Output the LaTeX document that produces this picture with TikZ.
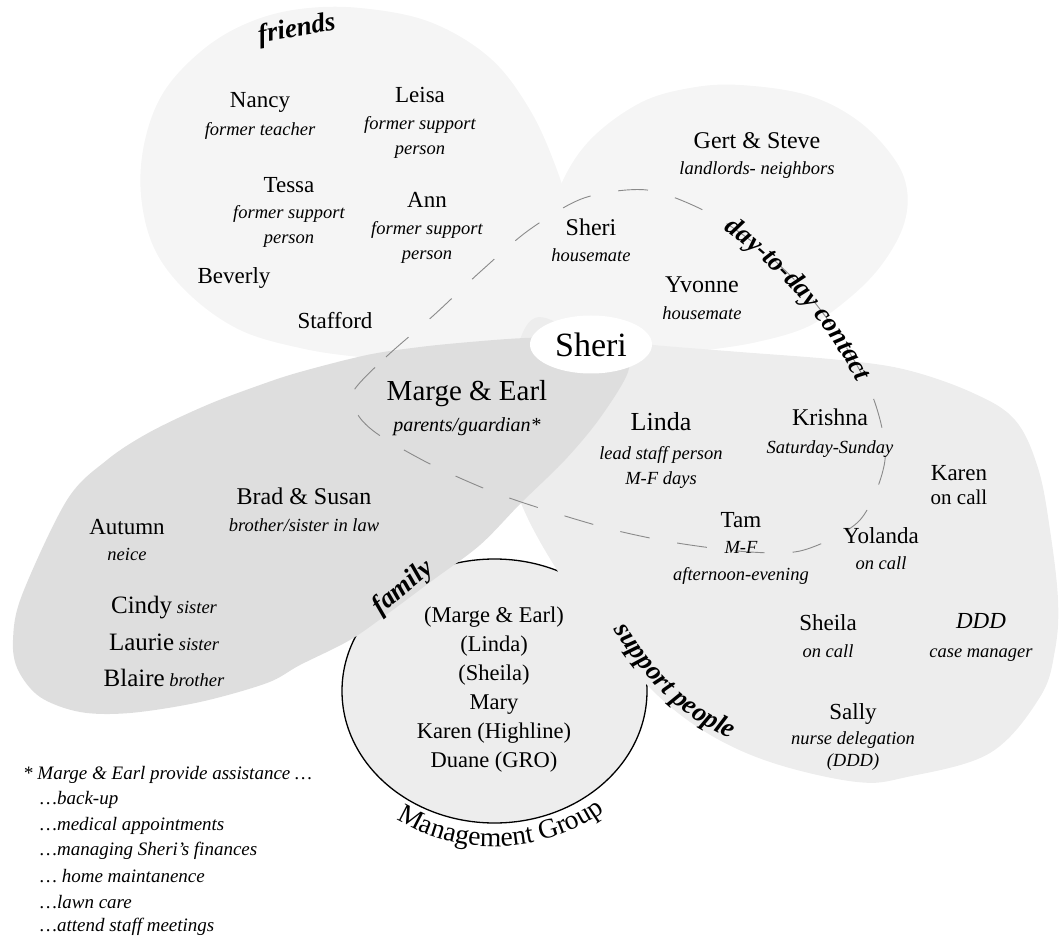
\documentclass[tikz,border=0pt]{standalone}
\usepackage{fontspec}
\setmainfont{Liberation Serif}
\usetikzlibrary{shapes.geometric,decorations.text}
\definecolor{friendsc}{HTML}{F5F5F5}
\definecolor{dayc}{HTML}{F5F5F5}
\definecolor{supc}{HTML}{EDEDED}
\definecolor{famc}{HTML}{DEDEDE}
\definecolor{mgmtc}{HTML}{EDEDED}
\definecolor{dashc}{HTML}{8A8A8A}
\newcommand\pnamefont{\fontsize{23}{25}\selectfont\upshape}
\newcommand\psubfont{\fontsize{18.5}{25}\selectfont\itshape}
\newcommand\plabelfont{\fontsize{27}{27}\selectfont\bfseries\itshape}
\newcommand\smalllabelfont{\fontsize{2.7}{2.7}\selectfont\bfseries\itshape}
\tikzset{
  person/.style={align=center, inner sep=0pt, font=\psubfont},
  grouplabel/.style={inner sep=0pt, font=\plabelfont},
  mgmtbox/.style={ellipse, draw=black, line width=1.3pt, fill=mgmtc, minimum width=305pt, minimum height=264pt, inner sep=0pt},
  sheribox/.style={ellipse, fill=white, minimum width=122pt, minimum height=58pt, inner sep=0pt, font=\fontsize{34}{34}\selectfont},
  daydash/.style={draw=dashc, line width=0.9pt, dash pattern=on 30pt off 28pt},
  footline/.style={anchor=west, inner sep=0pt, font=\fontsize{19}{22}\selectfont\itshape}
}
\begin{document}
\begin{tikzpicture}[x=1pt,y=1pt]
\useasboundingbox (0,0) rectangle (1061,-941);

% friends petal
\fill[friendsc] plot[smooth cycle, tension=0.6] coordinates {(300,-9) (360,-8) (430,-22) (490,-58) (530,-110) (557,-170) (575,-230) (590,-290) (585,-335) (520,-352) (440,-362) (360,-357) (300,-348) (240,-330) (190,-295) (155,-250) (141,-195) (145,-140) (165,-90) (205,-48) (250,-22)};

% day-to-day petal
\fill[dayc] plot[smooth cycle, tension=0.6] coordinates {(548,-240) (560,-187) (590,-140) (640,-103) (690,-88) (740,-85) (807,-95) (857,-120) (893,-157) (907,-190) (903,-227) (880,-267) (847,-300) (807,-327) (757,-342) (707,-350) (680,-352) (630,-348) (580,-320)};

% management group circle
\node[mgmtbox] (mgmt) at (494.5,-691) {};

% support people petal
\fill[supc] plot[smooth cycle, tension=0.6] coordinates {(535,-318) (590,-338) (653,-345) (740,-352) (840,-360) (907,-370) (973,-393) (1015,-420) (1038,-468) (1050,-530) (1058,-600) (1055,-650) (1040,-697) (990,-753) (907,-777) (857,-782) (773,-763) (707,-733) (652,-690) (600,-628) (557,-570) (521,-503) (505,-440) (512,-370)};

% family petal
\fill[famc] plot[smooth cycle, tension=0.55] coordinates {(470,-342) (525,-338) (585,-337) (622,-350) (628,-372) (600,-418) (565,-460) (521,-503) (480,-545) (433,-580) (390,-612) (350,-640) (300,-665) (267,-683) (200,-702) (130,-713) (80,-712) (40,-697) (18,-670) (13,-640) (22,-595) (67,-500) (107,-460) (150,-432) (207,-405) (260,-385) (300,-372) (367,-355) (420,-347)};

% Sheri centre
\node[sheribox] (sheri) at (591,-344.5) {Sheri};

% day-to-day dashed ring
\draw[daydash] plot[smooth cycle] coordinates {(353,-392) (386,-357) (434,-315) (480,-272) (529,-230) (584,-198) (647,-190) (707,-212) (759,-247) (806,-292) (843,-342) (874,-400) (885,-460) (860,-520) (804,-550) (750,-552) (677,-543) (614,-530) (552,-512) (493,-492) (432,-465) (379,-435) (358,-415)};

% group labels
\node[grouplabel, rotate=10] (lfriends) at (297,-30) {friends};
\node[grouplabel, rotate=40] (lfamily) at (403,-588) {family};
\begin{scope}[transform canvas={shift={(700,-214)}, scale=10}]
\path[decorate, decoration={text along path, text align=center, text={|\smalllabelfont|day-to-day contact}}]
  (0,0) .. controls (6,-3.8) and (12.5,-9.5) .. (17,-19.4);
\end{scope}
\begin{scope}[transform canvas={shift={(603,-612)}, scale=10}]
\path[decorate, decoration={text along path, text align=center, text={|\smalllabelfont|support people}}]
  (0,0) .. controls (3,-5) and (7,-11) .. (14.7,-13.4);
\end{scope}
\begin{scope}[transform canvas={shift={(494.5,-691)}, scale=10}]
\path[decorate, decoration={text along path, text align=center, text={|\fontsize{2.75}{2.75}\selectfont|Management Group}}]
  (-12.32,-10.98) arc[start angle=225, end angle=320, x radius=17.42, y radius=15.53];
\end{scope}

% friends
\node[person] (nancy) at (260,-116) {{\pnamefont Nancy}\\[3pt]former teacher};
\node[person] (leisa) at (420,-122.5) {{\pnamefont Leisa}\\[2pt]former support\\person};
\node[person] (tessa) at (289,-212.5) {{\pnamefont Tessa}\\[1pt]former support\\person};
\node[person] (ann) at (427,-228) {{\pnamefont Ann}\\[2pt]former support\\person};
\node[person] (beverly) at (234,-278) {{\pnamefont Beverly}};
\node[person] (stafford) at (335,-321) {{\pnamefont Stafford}};

% day-to-day
\node[person] (gert) at (757,-155) {{\fontsize{24}{25}\selectfont\upshape Gert \& Steve}\\[1pt]landlords- neighbors};
\node[person] (sherih) at (591,-240) {{\fontsize{24}{25}\selectfont\upshape Sheri}\\[1pt]housemate};
\node[person] (yvonne) at (702,-298.5) {{\fontsize{24}{25}\selectfont\upshape Yvonne}\\[2pt]housemate};

% family
\node[person] (marge) at (467,-408.5) {{\fontsize{29}{25}\selectfont\upshape Marge \& Earl}\\[6pt]{\fontsize{20}{25}\selectfont parents/guardian*}};
\node[person] (brad) at (304,-509.5) {{\fontsize{24}{25}\selectfont\upshape Brad \& Susan}\\[2pt]brother/sister in law};
\node[person] (autumn) at (127,-540) {{\pnamefont Autumn}\\[1pt]neice};
\node[person, font=\fontsize{18.5}{36.5}\selectfont\itshape] (siblings) at (164,-641.5)
  {{\fontsize{25}{25}\selectfont\upshape Cindy} sister\\{\fontsize{25}{25}\selectfont\upshape Laurie} sister\\{\fontsize{25}{25}\selectfont\upshape Blaire} brother};

% support people
\node[person] (linda) at (661,-450) {{\fontsize{26}{25}\selectfont\upshape Linda}\\[4pt]lead staff person\\M-F days};
\node[person] (krishna) at (830,-433) {{\fontsize{24}{25}\selectfont\upshape Krishna}\\[3pt]Saturday-Sunday};
\node[person, font=\fontsize{21}{24}\selectfont] (karen) at (959,-485) {{\pnamefont Karen}\\on call};
\node[person] (tam) at (741,-548.5) {{\pnamefont Tam}\\[1pt]M-F\\[2pt]afternoon-evening};
\node[person] (yolanda) at (881,-549) {{\pnamefont Yolanda}\\[1pt]on call};
\node[person] (sheila) at (828,-636.5) {{\pnamefont Sheila}\\[2pt]on call};
\node[person] (ddd) at (981,-637.5) {{\fontsize{23}{25}\selectfont DDD}\\[4pt]case manager};
\node[person] (sally) at (853,-736.5) {{\pnamefont Sally}\\nurse delegation\\[-3pt](DDD)};

% management group members
\node[person, font=\fontsize{22.5}{29}\selectfont\upshape] (members) at (494,-689.5)
  {(Marge \& Earl)\\(Linda)\\(Sheila)\\Mary\\Karen (Highline)\\Duane (GRO)};

% footnote
\node[footline] (fn1) at (23,-775) {* Marge \& Earl provide assistance …};
\node[footline] (fn2) at (40,-800) {…back-up};
\node[footline] (fn3) at (40,-826) {…medical appointments};
\node[footline] (fn4) at (40,-851) {…managing Sheri's finances};
\node[footline] (fn5) at (40,-876) {… home maintanence};
\node[footline] (fn6) at (40,-902) {…lawn care};
\node[footline] (fn7) at (40,-927) {…attend staff meetings};
\end{tikzpicture}
\end{document}
